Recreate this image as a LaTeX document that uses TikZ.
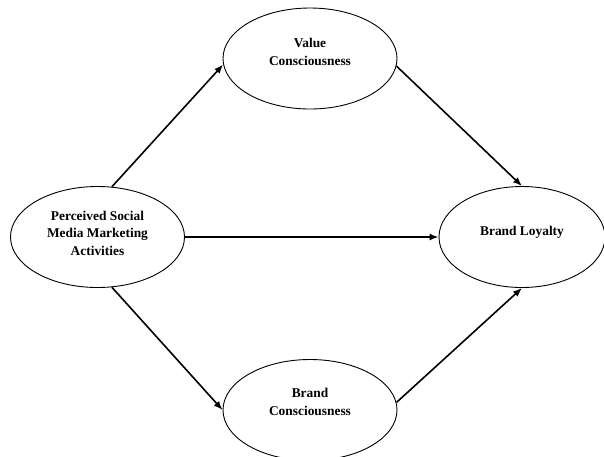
\documentclass[tikz,border=0pt]{standalone}
\usepackage{fontspec}
\setmainfont{Liberation Serif}
\usetikzlibrary{arrows.meta,shapes.geometric}
\begin{document}
\begin{tikzpicture}[x=1pt,y=-1pt,
  oval/.style={draw, ellipse, line width=0.9pt, minimum width=174pt, minimum height=101pt, inner sep=0pt},
  lbl/.style={align=center, font=\fontsize{13.4}{17.5}\selectfont\bfseries, inner sep=0pt},
  arr/.style={-{Latex[length=9pt,width=7pt]}, line width=1.6pt}]
\useasboundingbox (0,0) rectangle (604,456);
\node[oval] (L) at (97.5,237) {};
\node[oval] (T) at (310,58.5) {};
\node[oval] (B) at (310,410) {};
\node[oval, minimum width=166pt] (R) at (522,237) {};
\node[lbl] (Lt) at (97.5,233) {Perceived Social\\Media Marketing\\Activities};
\node[lbl] (Tt) at (310,52) {Value\\Consciousness};
\node[lbl] (Bt) at (310,402) {Brand\\Consciousness};
\node[lbl] (Rt) at (522,232) {Brand Loyalty};
\draw[arr] (L.74) -- (T.184);
\draw[arr] (T.-5) -- (R.north);
\draw[arr] (L.east) -- (R.west);
\draw[arr] (L.-74) -- (B.west);
\draw[arr] (B.5) -- (R.south);
\end{tikzpicture}
\end{document}
